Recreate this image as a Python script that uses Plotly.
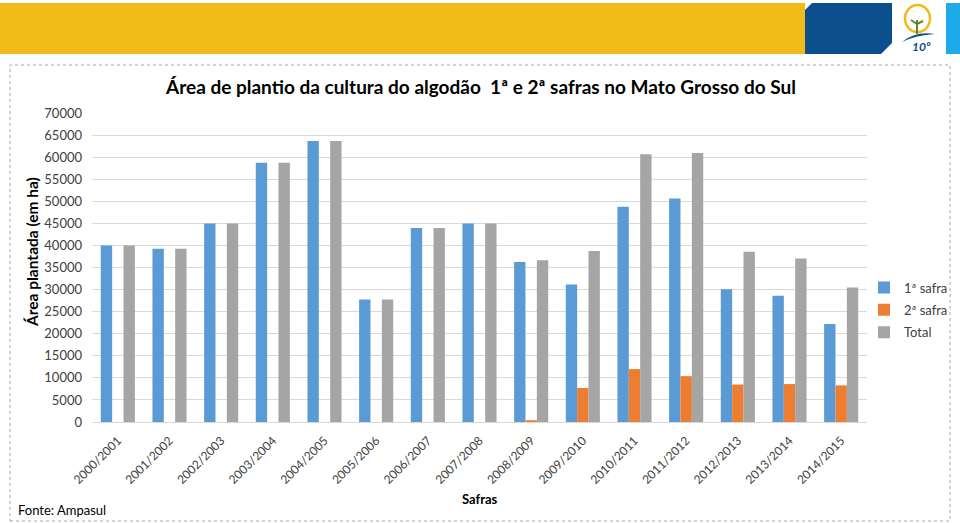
import plotly.graph_objects as go

categories = ["2000/2001", "2001/2002", "2002/2003", "2003/2004", "2004/2005",
              "2005/2006", "2006/2007", "2007/2008", "2008/2009", "2009/2010",
              "2010/2011", "2011/2012", "2012/2013", "2013/2014", "2014/2015"]
safra1 = [40000, 39300, 45000, 58800, 63700, 27800, 44000, 45000, 36300, 31200,
          48800, 50700, 30100, 28600, 22200]
safra2 = [0, 0, 0, 0, 0, 0, 0, 0, 400, 7700, 12000, 10400, 8500, 8600, 8300]
total = [40000, 39300, 45000, 58800, 63700, 27800, 44000, 45000, 36700, 38800,
         60700, 61000, 38600, 37100, 30500]
series_names = ["1ª safra", "2ª safra", "Total"]
y_ticks = list(range(0, 70001, 5000))

W, H = 960, 523
FONT = "Lato"


def px(x):
    return x / W


def py(y):
    return 1 - y / H


fig = go.Figure()
colors = ["#5b9bd5", "#ed7d31", "#a5a5a5"]
for name, vals, c in zip(series_names, [safra1, safra2, total], colors):
    fig.add_trace(go.Bar(name=name, x=categories, y=vals, marker_color=c,
                         marker_line_width=0, legendgroup=name))

shapes = []
# header bands
shapes.append(dict(type="rect", xref="paper", yref="paper", x0=px(0), x1=px(805),
                   y0=py(54), y1=py(3), fillcolor="#f2bb1a", line_width=0, layer="below"))
bp = [(812, 3), (892, 3), (892, 43), (881, 54), (805, 54), (805, 10)]
path = "M " + " L ".join(f"{px(a):.5f},{py(b):.5f}" for a, b in bp) + " Z"
shapes.append(dict(type="path", xref="paper", yref="paper", path=path,
                   fillcolor="#0b4f8c", line_width=0, layer="below"))
shapes.append(dict(type="rect", xref="paper", yref="paper", x0=px(946), x1=px(960),
                   y0=py(54), y1=py(3), fillcolor="#1ea9e8", line_width=0, layer="below"))
# logo: cotton outline
shapes.append(dict(type="circle", xref="paper", yref="paper", x0=px(905), x1=px(930),
                   y0=py(32), y1=py(5), line=dict(color="#f2bb1a", width=2.5),
                   fillcolor="rgba(0,0,0,0)"))
# plant
shapes.append(dict(type="path", xref="paper", yref="paper",
                   path=f"M {px(917)},{py(34)} L {px(917)},{py(20)} M {px(917)},{py(24)} L {px(911)},{py(20)} M {px(917)},{py(24)} L {px(923)},{py(21)}",
                   line=dict(color="#5a8a2e", width=2)))
# swoosh
sw = f"M {px(902)},{py(42)} Q {px(915)},{py(31)} {px(935)},{py(34)} Q {px(916)},{py(35)} {px(902)},{py(42)} Z"
shapes.append(dict(type="path", xref="paper", yref="paper", path=sw,
                   fillcolor="#0b4f8c", line_width=0))
# dotted chart frame
shapes.append(dict(type="rect", xref="paper", yref="paper", x0=px(10), x1=px(950),
                   y0=py(521), y1=py(65), line=dict(color="#a6a6a6", width=1, dash="dot"),
                   fillcolor="rgba(0,0,0,0)", layer="below"))

annotations = [
    dict(text="<b>Área de plantio da cultura do algodão  1ª e 2ª safras no Mato Grosso do Sul</b>",
         x=px(480), y=py(87), xref="paper", yref="paper", showarrow=False,
         xanchor="center", yanchor="middle", font=dict(family=FONT, size=19, color="#000000")),
    dict(text="<b>Área plantada (em ha)</b>", x=px(32), y=py(252), xref="paper", yref="paper",
         showarrow=False, textangle=-90, xanchor="center", yanchor="middle",
         font=dict(family=FONT, size=15.5, color="#000000")),
    dict(text="<b>Safras</b>", x=px(480), y=py(499), xref="paper", yref="paper",
         showarrow=False, xanchor="center", yanchor="middle",
         font=dict(family=FONT, size=13, color="#000000")),
    dict(text="Fonte: Ampasul", x=px(16), y=py(510), xref="paper", yref="paper",
         showarrow=False, xanchor="left", yanchor="middle",
         font=dict(family=FONT, size=13, color="#000000")),
    dict(text="<b><i>10º</i></b>", x=px(921), y=py(47), xref="paper", yref="paper",
         showarrow=False, xanchor="center", yanchor="middle",
         font=dict(family=FONT, size=12, color="#0b4f8c")),
]

fig.update_layout(
    width=W, height=H, autosize=False,
    margin=dict(l=0, r=0, t=0, b=0),
    paper_bgcolor="#ffffff", plot_bgcolor="#ffffff",
    barmode="group", bargap=0.34, bargroupgap=0,
    font=dict(family=FONT, size=13, color="#404040"),
    shapes=shapes, annotations=annotations,
    legend=dict(x=px(864), y=py(310), xanchor="left", yanchor="middle",
                font=dict(family=FONT, size=13, color="#404040"),
                bgcolor="rgba(0,0,0,0)", tracegroupgap=2.5, itemwidth=30),
    xaxis=dict(domain=[px(92), px(867)], tickangle=-45, showgrid=False,
               showline=True, linecolor="#d9d9d9", linewidth=1,
               ticks="outside", ticklen=6, tickcolor="rgba(0,0,0,0)",
               tickfont=dict(family=FONT, size=12, color="#404040"), automargin=False),
    yaxis=dict(domain=[py(422), py(113.3)], range=[0, 70000], tickvals=y_ticks,
               ticktext=[str(v) for v in y_ticks], showgrid=True, gridcolor="#d9d9d9",
               zeroline=False, showline=False, ticks="", ticklabelstandoff=9,
               tickfont=dict(family=FONT, size=13, color="#404040"), automargin=False),
)

fig.write_html("out.html",
               config={"responsive": False, "displayModeBar": False},
               post_script="document.body.style.margin='0';document.body.style.overflow='hidden';")
